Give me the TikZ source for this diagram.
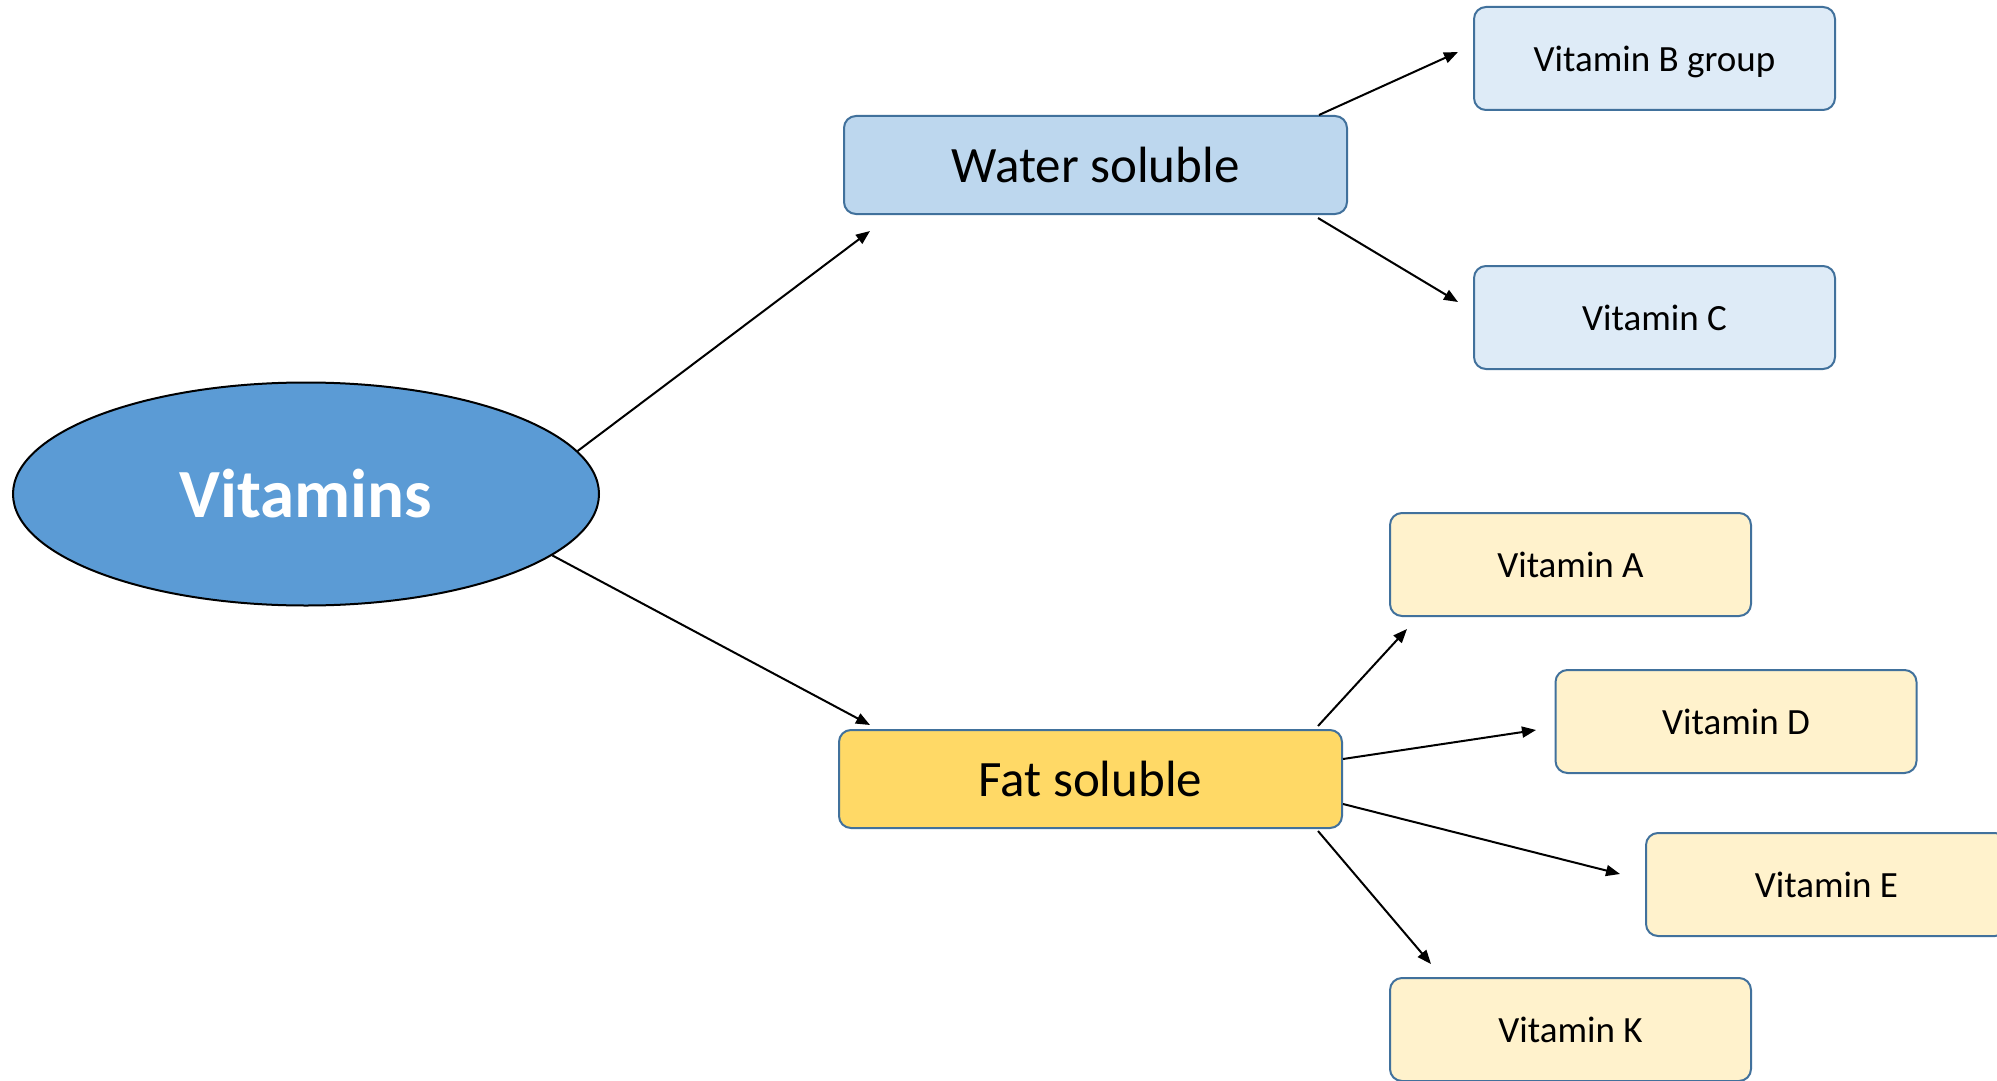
\documentclass[tikz,border=0pt]{standalone}
\usepackage{fontspec}
\setmainfont{Carlito}
\usetikzlibrary{shapes.geometric,arrows.meta,calc}
\definecolor{ellfill}{HTML}{5B9BD5}
\definecolor{wsfill}{HTML}{BDD7EE}
\definecolor{wlfill}{HTML}{DEEBF7}
\definecolor{fsfill}{HTML}{FFD966}
\definecolor{flfill}{HTML}{FFF2CC}
\definecolor{bord}{HTML}{41719C}
\tikzset{
  mainbox/.style={draw=bord, line width=1pt, rounded corners=6pt, minimum width=251.5pt, minimum height=49pt, inner sep=0pt, font=\fontsize{25.5}{30}\selectfont},
  leafbox/.style={draw=bord, line width=1pt, rounded corners=6pt, minimum width=180.5pt, minimum height=51.5pt, inner sep=0pt, text depth=0pt, font=\fontsize{18.5}{22}\selectfont},
  conn/.style={line width=1pt, -{Triangle[length=7pt,width=5.5pt]}}
}
\begin{document}
\begin{tikzpicture}[x=0.5pt,y=-0.5pt]
\clip (0,0) rectangle (1997,1081);
\fill[white] (0,0) rectangle (1997,1081);
\node[ellipse, draw=black, line width=1pt, fill=ellfill, minimum width=293pt, minimum height=111.5pt, inner sep=0pt, text=white, font=\fontsize{34.5}{40}\selectfont\bfseries] (ell) at (306,494) {Vitamins};
\node[mainbox, fill=wsfill] (ws) at (1095.5,165) {Water soluble};
\node[mainbox, fill=fsfill] (fs) at (1090.5,779) {Fat soluble};
\node[leafbox, fill=wlfill] (vb) at (1654.5,58.5) {Vitamin B group};
\node[leafbox, fill=wlfill] (vc) at (1654.5,317.5) {Vitamin C};
\node[leafbox, fill=flfill] (va) at (1570.5,564.5) {Vitamin A};
\node[leafbox, fill=flfill] (vd) at (1736,721.5) {Vitamin D};
\node[leafbox, fill=flfill] (ve) at (1826.5,884.5) {Vitamin E};
\node[leafbox, fill=flfill] (vk) at (1570.5,1029.5) {Vitamin K};
\coordinate (t1) at (870,231);
\coordinate (t2) at (870,725);
\coordinate (t3) at (1458,52);
\coordinate (t4) at (1458,302);
\coordinate (t5) at (1407,629);
\coordinate (t6) at (1536,730);
\coordinate (t7) at (1620,874);
\coordinate (t8) at (1431,964);
\draw[conn] (ell.9.5) -- (t1);
\draw[conn] (ell.-14.4) -- (t2);
\draw[conn] ($(ws.north east)+(-29,0)$) -- (t3);
\draw[conn] ($(ws.south east)+(-30,3)$) -- (t4);
\draw[conn] ($(fs.north east)+(-25,-3)$) -- (t5);
\draw[conn] ($(fs.east)+(0,-20)$) -- (t6);
\draw[conn] ($(fs.east)+(0,25)$) -- (t7);
\draw[conn] ($(fs.south east)+(-25,2)$) -- (t8);
\end{tikzpicture}
\end{document}
